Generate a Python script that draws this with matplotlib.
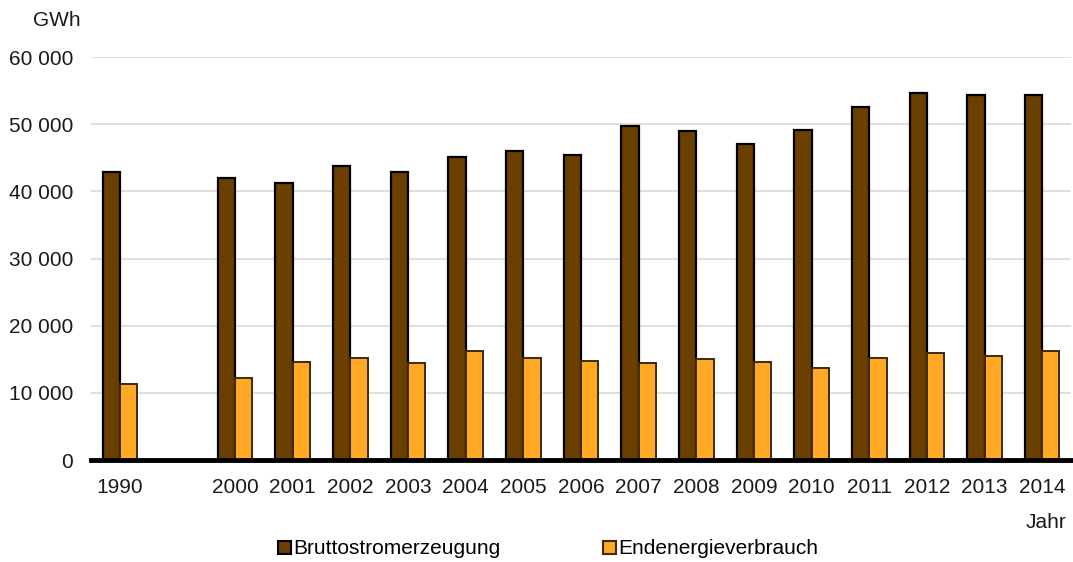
import numpy as np
import matplotlib.pyplot as plt
from matplotlib.patches import Patch

plt.rcParams['font.family'] = ['Liberation Sans', 'DejaVu Sans']

# Jahre (1990, dann Lücke, dann 2000-2014)
jahre = ['1990', '', '2000', '2001', '2002', '2003', '2004', '2005', '2006',
         '2007', '2008', '2009', '2010', '2011', '2012', '2013', '2014']
# Werte in GWh, None = kein Wert
brutto = [42900, None, 42000, 41300, 43700, 42900, 45100, 46000, 45400,
          49700, 49000, 47000, 49200, 52500, 54700, 54300, 54300]
endenergie = [11300, None, 12200, 14600, 15200, 14400, 16200, 15200, 14700,
              14400, 15000, 14600, 13700, 15200, 15900, 15500, 16300]

farbe_brutto = '#6b3f00'
farbe_ende = '#ffa824'
fs = 15

fig = plt.figure(figsize=(10.73, 5.62), dpi=100)
ax = fig.add_axes([91/1073, 1 - 460/562, 980/1073, 403/562])

x = np.arange(len(jahre))
b = 0.3
for i in range(len(jahre)):
    if brutto[i] is not None:
        ax.bar(x[i] - b/2, brutto[i], width=b, color=farbe_brutto,
               edgecolor='black', linewidth=1.6, zorder=3)
    if endenergie[i] is not None:
        ax.bar(x[i] + b/2, endenergie[i], width=b, color=farbe_ende,
               edgecolor='#3d2a0a', linewidth=1.4, zorder=3)

ax.set_xlim(-0.5, len(jahre) - 0.5)
ax.set_ylim(0, 60000)
ax.set_yticks(range(0, 60001, 10000))
ax.set_yticklabels(['0' if v == 0 else f'{v // 1000} 000' for v in range(0, 60001, 10000)],
                   fontsize=fs)
ax.set_xticks(x)
ax.set_xticklabels(jahre, fontsize=fs)
ax.tick_params(axis='both', length=0, colors='#1a1a1a')
ax.tick_params(axis='x', pad=13)
ax.tick_params(axis='y', pad=13)

ax.grid(axis='y', color='#d9d9d9', linewidth=1.2, zorder=0)
for s in ['top', 'right', 'left']:
    ax.spines[s].set_visible(False)
ax.spines['bottom'].set_linewidth(3.5)
ax.spines['bottom'].set_zorder(5)

fig.text(57/1073, 1 - 20/562, 'GWh', fontsize=fs, ha='center', va='center', color='#1a1a1a')
fig.text(1046/1073, 1 - 522/562, 'Jahr', fontsize=fs, ha='center', va='center', color='#1a1a1a')

handles = [Patch(facecolor=farbe_brutto, edgecolor='black', linewidth=1.5),
           Patch(facecolor=farbe_ende, edgecolor='#3d2a0a', linewidth=1.5)]
fig.legend(handles, ['Bruttostromerzeugung', 'Endenergieverbrauch'],
           loc='center', bbox_to_anchor=(548/1073, 1 - 549/562), ncol=2,
           frameon=False, fontsize=fs, handlelength=0.6, handleheight=0.6,
           handletextpad=0.1, columnspacing=4.95)

fig.savefig('out.png', dpi=100)
